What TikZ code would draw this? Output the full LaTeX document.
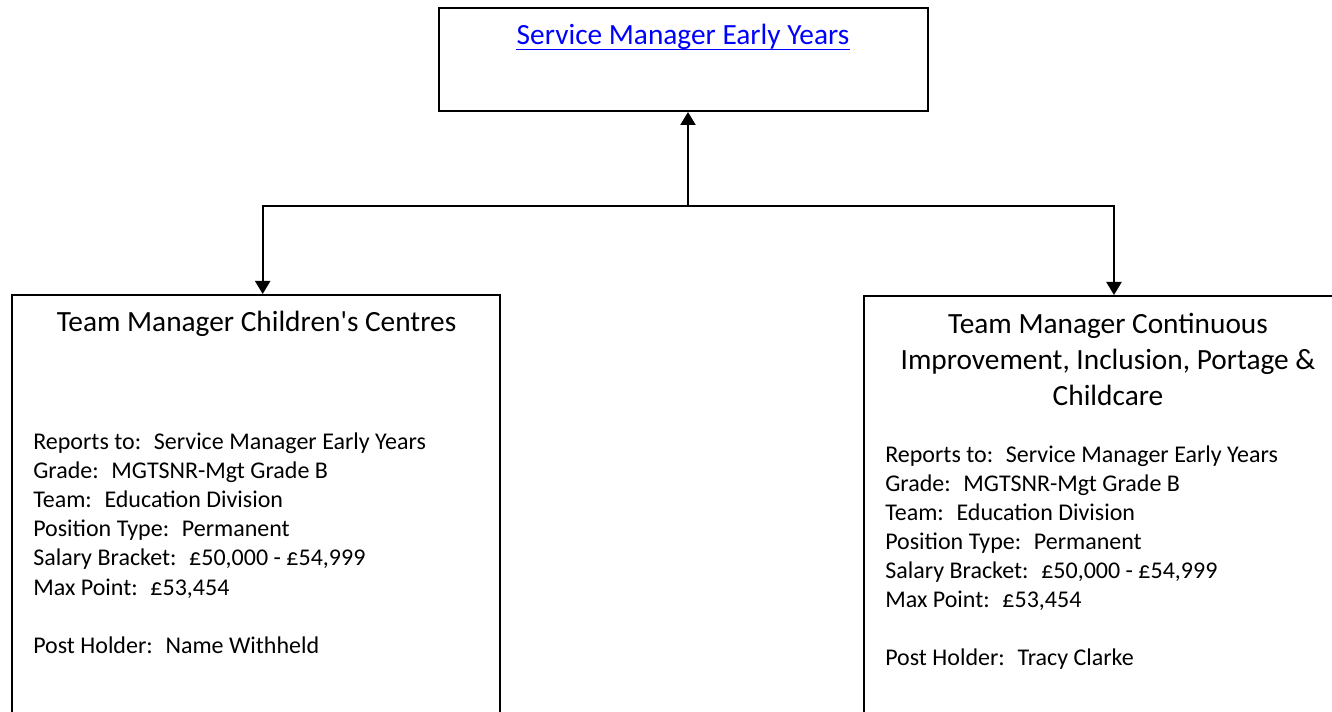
\documentclass[tikz,border=0pt]{standalone}
\usepackage{fontspec}
\setmainfont{Carlito}
\usetikzlibrary{arrows.meta}
\newcommand{\headfont}{\fontsize{22}{27}\selectfont}
\newcommand{\infofont}{\fontsize{18}{21.75}\selectfont}
\tikzset{
  post/.style={draw, line width=1.5pt, inner sep=0pt, anchor=north, minimum width=366pt, minimum height=375pt},
  head/.style={font=\headfont, align=center, anchor=north, inner sep=0pt},
  info/.style={font=\infofont, anchor=base west, inner sep=0pt},
  reports/.style={line width=1.5pt, -{Triangle[length=9.75pt,width=11.25pt]}}
}
\begin{document}
\begin{tikzpicture}[x=0.75pt,y=-0.75pt]
  \useasboundingbox (0,0) rectangle (1332,712);

  \node[post, minimum width=366.75pt, minimum height=77.25pt] (sm) at (683.5,7) {};
  \node[font=\headfont, text=blue, anchor=base, inner sep=0pt] (smt) at (683,45) {Service Manager Early Years};
  \draw[blue, line width=1.1pt] ([yshift=-3.2pt]smt.base west) -- ([yshift=-3.2pt]smt.base east);

  \node[post] (cc) at (256.3,294) {};
  \node[head] (cct) at (256.5,306.5) {\strut Team Manager Children\textquotesingle s Centres};

  \node[post] (ci) at (1108,295) {};
  \node[head] (cit) at (1108,307.8) {\strut Team Manager Continuous\\Improvement, Inclusion, Portage \&\\Childcare};

  \foreach \txt [count=\i] in {{Reports to:~ Service Manager Early Years},
      {Grade:~ MGTSNR-Mgt Grade B}, {Team:~ Education Division},
      {Position Type:~ Permanent}, {Salary Bracket:~ £50,000 - £54,999},
      {Max Point:~ £53,454}}{
    \node[info] (ccl\i) at (33,{421+29*\i}) {\txt};
    \node[info] (cil\i) at (885,{434+29*\i}) {\txt};
  }
  \node[info] (cch) at (33,653) {Post Holder:~ Name Withheld};
  \node[info] (cih) at (885,666) {Post Holder:~ Tracy Clarke};

  \coordinate (j) at (688,206);
  \coordinate (jl) at (262.7,206);
  \coordinate (jr) at (1114,206);
  \draw[reports] (j) -- (j |- sm.south);
  \draw[reports] (j) -- (jl) -- (jl |- cc.north);
  \draw[reports] (j) -- (jr) -- (jr |- ci.north);
\end{tikzpicture}
\end{document}
